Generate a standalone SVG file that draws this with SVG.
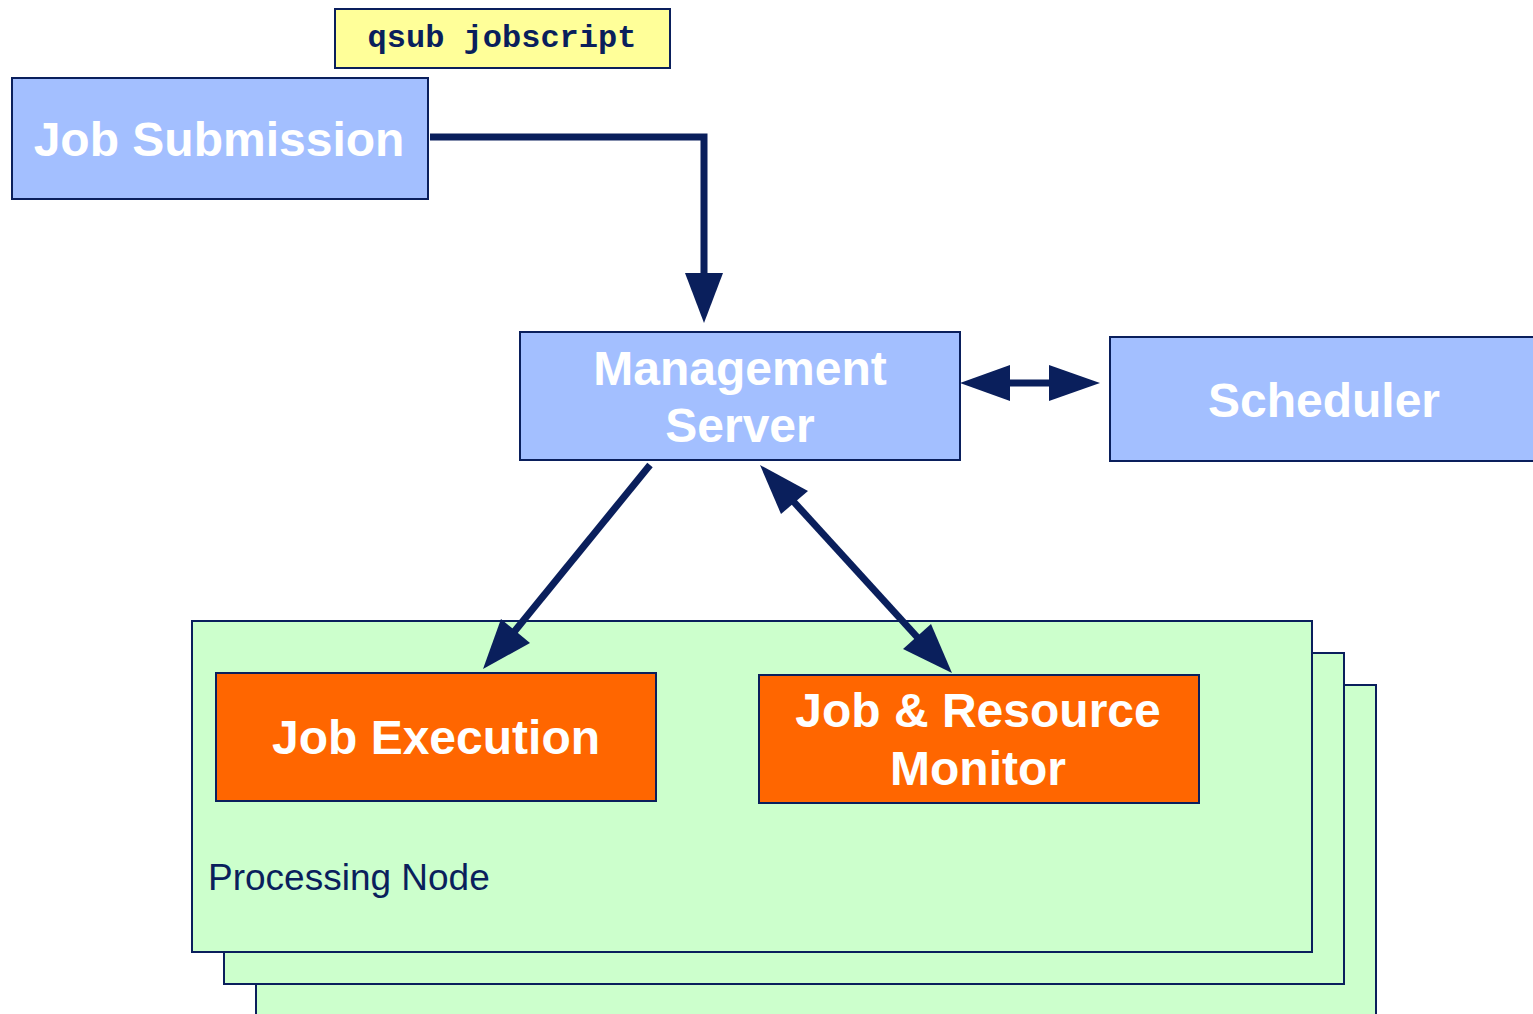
<svg xmlns="http://www.w3.org/2000/svg" width="1533" height="1014" viewBox="0 0 1533 1014">
  <style>
    .box { stroke: #0A1F5C; stroke-width: 2; }
    .blue { fill: #A3BFFF; }
    .orange { fill: #FF6600; }
    .green { fill: #CCFFCC; }
    .yellow { fill: #FFFF99; }
    .label { font-family: "Liberation Sans", Arial, sans-serif; font-weight: bold; fill: #FFFFFF; text-anchor: middle; font-size: 48px; }
    .mono { font-family: "Liberation Mono", "Courier New", monospace; font-weight: bold; fill: #0A1F5C; text-anchor: middle; font-size: 32px; }
    .plain { font-family: "Liberation Sans", Arial, sans-serif; fill: #0A1F5C; font-size: 37px; }
    .conn { stroke: #0A1F5C; stroke-width: 7; fill: none; }
    .head { fill: #0A1F5C; }
  </style>

  <rect width="1533" height="1014" fill="#FFFFFF"/>

  <!-- stacked processing nodes -->
  <g id="node-stack-back">
    <rect class="box green" x="256" y="685" width="1120" height="340"/>
  </g>
  <g id="node-stack-middle">
    <rect class="box green" x="224" y="653" width="1120" height="331"/>
  </g>
  <g id="processing-node">
    <rect class="box green" x="192" y="621" width="1120" height="331"/>
    <text class="plain" x="208" y="890">Processing Node</text>
  </g>

  <g id="qsub-label">
    <rect class="box yellow" x="335" y="9" width="335" height="59"/>
    <text class="mono" x="502" y="47">qsub jobscript</text>
  </g>

  <g id="job-submission">
    <rect class="box blue" x="12" y="78" width="416" height="121"/>
    <text class="label" x="219" y="156">Job Submission</text>
  </g>

  <g id="management-server">
    <rect class="box blue" x="520" y="332" width="440" height="128"/>
    <text class="label" x="740" y="385">Management</text>
    <text class="label" x="740" y="442">Server</text>
  </g>

  <g id="scheduler">
    <rect class="box blue" x="1110" y="337" width="440" height="124"/>
    <text class="label" x="1324" y="417">Scheduler</text>
  </g>

  <g id="job-execution">
    <rect class="box orange" x="216" y="673" width="440" height="128"/>
    <text class="label" x="436" y="754">Job Execution</text>
  </g>

  <g id="job-resource-monitor">
    <rect class="box orange" x="759" y="675" width="440" height="128"/>
    <text class="label" x="978" y="727">Job &amp; Resource</text>
    <text class="label" x="978" y="785">Monitor</text>
  </g>

  <g id="connectors">
    <!-- submission to management server -->
    <path class="conn" d="M430,137 H704 V275"/>
    <polygon class="head" points="685,273 723,273 704,323"/>
    <!-- management server to scheduler, both ways -->
    <path class="conn" d="M1008,383 H1051"/>
    <polygon class="head" points="960,383 1010,365 1010,401"/>
    <polygon class="head" points="1100,383 1049,365 1049,401"/>
    <!-- management server to job execution -->
    <path class="conn" d="M650,465 L514,632"/>
    <polygon class="head" points="483,669 501,619 530,643"/>
    <!-- management server to job & resource monitor, both ways -->
    <path class="conn" d="M793,501 L918,638"/>
    <polygon class="head" points="760,465 808,491 781,514"/>
    <polygon class="head" points="952,673 931,624 903,649"/>
  </g>
</svg>
